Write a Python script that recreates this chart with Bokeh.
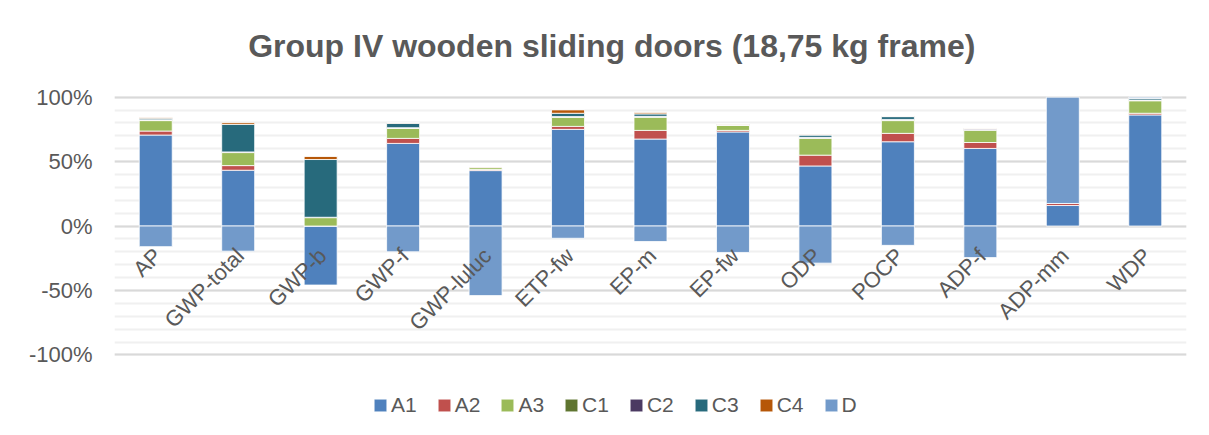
import math
from bokeh.plotting import figure
from bokeh.models import (FactorRange, Range1d, FixedTicker, NumeralTickFormatter,
                          Legend, LegendItem, Label)
from bokeh.core.properties import value
from bokeh.embed import file_html
from bokeh.resources import INLINE

categories = ["AP", "GWP-total", "GWP-b", "GWP-f", "GWP-luluc", "ETP-fw", "EP-m",
              "EP-fw", "ODP", "POCP", "ADP-f", "ADP-mm", "WDP"]

A1 = [0.706, 0.433, -0.458, 0.641, 0.430, 0.750, 0.675, 0.730, 0.466, 0.654, 0.602, 0.159, 0.862]
A2 = [0.031, 0.036, 0.000, 0.039, 0.008, 0.023, 0.067, 0.012, 0.084, 0.065, 0.046, 0.016, 0.013]
A3 = [0.081, 0.101, 0.065, 0.078, 0.015, 0.071, 0.102, 0.039, 0.130, 0.099, 0.094, 0.000, 0.097]
C1 = [0.004, 0.003, 0.002, 0.003, 0.001, 0.003, 0.004, 0.003, 0.004, 0.004, 0.005, 0.000, 0.003]
C2 = [0.003, 0.002, 0.001, 0.002, 0.001, 0.002, 0.003, 0.002, 0.004, 0.005, 0.008, 0.000, 0.003]
C3 = [0.012, 0.214, 0.448, 0.034, 0.002, 0.026, 0.019, 0.003, 0.018, 0.022, 0.000, 0.000, 0.012]
C4 = [0.003, 0.013, 0.026, 0.003, 0.001, 0.026, 0.008, 0.003, 0.002, 0.002, 0.001, 0.000, 0.002]
D = [-0.160, -0.195, 0.000, -0.200, -0.540, -0.095, -0.120, -0.205, -0.288, -0.150, -0.245, 0.825, 0.008]

series_names = ["A1", "A2", "A3", "C1", "C2", "C3", "C4", "D"]
series_values = [A1, A2, A3, C1, C2, C3, C4, D]
series_colors = ["#4F81BD", "#C0504D", "#9BBB59", "#5F7530", "#4B3A62", "#276A7C", "#B65708", "#729ACA"]

title_text = "Group IV wooden sliding doors (18,75 kg frame)"
y_ticks = [-1.0, -0.5, 0.0, 0.5, 1.0]
y_minor = [i / 10 for i in range(-10, 11)]

TEXT = "#595959"
FONT = "Liberation Sans"

W, H = 1207, 433
# frame spans the full height; 100% sits 96 px below the top, 128 px per 100%
p = figure(x_range=FactorRange(factors=categories), y_range=Range1d(-1.61, 1.75),
           width=W, height=H, output_backend="svg", toolbar_location=None,
           min_border_left=114, min_border_right=W - 1186,
           min_border_top=0, min_border_bottom=0)

p.outline_line_color = None
p.xaxis.visible = False
p.xgrid.visible = False

yax = p.yaxis[0]
yax.ticker = FixedTicker(ticks=y_ticks, minor_ticks=y_minor)
yax.formatter = NumeralTickFormatter(format="0%")
yax.axis_line_color = None
yax.major_tick_line_color = None
yax.minor_tick_line_color = None
yax.major_tick_out = 0
yax.minor_tick_out = 0
yax.major_label_standoff = 22
yax.major_label_text_font = FONT
yax.major_label_text_font_size = "22px"
yax.major_label_text_color = TEXT

p.ygrid.grid_line_color = "#D9D9D9"
p.ygrid.grid_line_width = 2
p.ygrid.minor_grid_line_color = "#F0F0F0"
p.ygrid.minor_grid_line_width = 2

n = len(categories)
pos = [0.0] * n
neg = [0.0] * n
items = []
for name, vals, col in zip(series_names, series_values, series_colors):
    bottoms, tops = [], []
    for i, v in enumerate(vals):
        if v >= 0:
            bottoms.append(pos[i]); tops.append(pos[i] + v); pos[i] += v
        else:
            tops.append(neg[i]); bottoms.append(neg[i] + v); neg[i] += v
    r = p.vbar(x=categories, bottom=bottoms, top=tops, width=0.4,
               fill_color=col, line_color="white", line_width=0.8)
    items.append(LegendItem(label=name, renderers=[r]))

p.text(x=categories, y=[0.0] * n, text=categories, angle=math.pi / 4,
       text_align="right", text_baseline="middle", x_offset=2, y_offset=26,
       text_font=value(FONT), text_font_size="22px", text_color=TEXT)

title = Label(x=6.03, y=1.40, text=title_text, text_align="center",
              text_baseline="middle", text_font=FONT, text_font_size="32px",
              text_font_style="bold", text_color=TEXT)
p.add_layout(title)

legend = Legend(items=items, orientation="horizontal", location=(258, 16),
                glyph_width=16, glyph_height=16, label_standoff=3, spacing=19,
                label_text_font=FONT, label_text_font_size="21px",
                label_text_color=TEXT, border_line_color=None,
                background_fill_alpha=0, margin=0, padding=0)
p.add_layout(legend)

open("out.html", "w").write(file_html(p, INLINE))
